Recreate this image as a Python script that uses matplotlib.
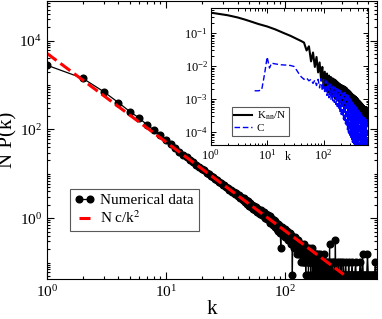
import numpy as np
import matplotlib
matplotlib.use("Agg")
import matplotlib.pyplot as plt
from matplotlib.ticker import LogLocator, LogFormatterMathtext, NullFormatter

plt.rcParams['font.family'] = ['Liberation Serif', 'DejaVu Serif']
plt.rcParams['mathtext.fontset'] = 'stix'

# --- main panel: N P(k), k = 1..60 read one by one
np_head = [2800, 1420, 710, 400, 250, 178, 124, 95, 73, 58,
           46, 38, 31.5, 27, 23.5, 20.5, 18.2, 16, 14.5, 13,
           11.9, 10.6, 9.9, 9.0, 8.4, 7.6, 7.3, 6.6, 6.3, 5.7,
           5.6, 5.0, 4.9, 4.4, 4.4, 3.9, 3.9, 3.5, 3.6, 3.1,
           3.3, 2.8, 3.0, 2.5, 2.8, 2.3, 2.5, 2.1, 2.4, 1.9,
           2.2, 1.75, 2.0, 1.6, 1.85, 1.5, 1.75, 1.35, 1.6, 1.3]

# k = 61..200, counts in units of 1/19 (the discrete levels seen in the tail)
runs = 19
counts_mid = [27, 24, 29, 22, 25, 21, 26, 19, 23, 20,
              18, 22, 17, 21, 15, 19, 16, 18, 13, 17,
              14, 16, 12, 15, 13, 11, 14, 10, 13, 12,
              9, 4, 11, 10, 12, 8, 10, 9, 11, 7,
              9, 8, 10, 7, 9, 6, 8, 7, 9, 6,
              8, 5, 7, 6, 1, 7, 5, 6, 4, 7,
              5, 6, 4, 5, 6, 3, 5, 4, 6, 3,
              4, 5, 3, 4, 2, 5, 3, 4, 3, 2,
              4, 3, 5, 2, 3, 4, 2, 3, 1, 4,
              3, 2, 4, 3, 2, 3, 1, 3, 2, 4,
              2, 3, 2, 1, 3, 2, 4, 2, 3, 1,
              2, 3, 2, 2, 1, 3, 2, 1, 2, 3,
              2, 1, 3, 2, 2, 1, 2, 3, 1, 2,
              1, 2, 2, 1, 3, 2, 1, 2, 1, 2]

# k > 200: only the non-empty degrees
k_tail = [201, 203, 204, 206, 207, 209, 211, 212, 214, 216, 218, 219, 221, 223,
          225, 226, 228, 231, 233, 234, 236, 238, 241, 243, 245, 247, 250, 252,
          254, 257, 259, 262, 264, 266, 269, 271, 274, 277, 279, 282, 285, 288,
          291, 294, 297, 300, 304, 307, 311, 314, 318, 322, 326, 330, 334, 338,
          342, 346, 351, 355, 360, 364, 369, 374, 379, 384, 390, 395, 401, 407,
          413, 419, 426, 432, 439, 446, 453, 460, 467, 475, 483, 491, 499, 507,
          516, 525, 534, 543, 552, 562, 572, 582, 590]
counts_tail = [1, 2, 1, 1, 2, 1, 3, 1, 1, 2, 1, 1, 2, 1,
               1, 2, 1, 1, 2, 1, 5, 1, 1, 2, 1, 1, 2, 1,
               1, 1, 2, 1, 6, 1, 1, 2, 1, 1, 1, 2, 1, 1,
               1, 2, 1, 1, 1, 2, 1, 1, 1, 2, 1, 1, 1, 1,
               2, 1, 1, 1, 1, 2, 1, 1, 1, 1, 2, 1, 1, 1,
               1, 1, 2, 1, 1, 3, 1, 1, 1, 1, 1, 3, 1, 1,
               1, 1, 1, 1, 1, 1, 2, 1, 1]

# fitted N c/k^2 line, end points
fit_k = [1, 310]
fit_y = [5200, 0.054]

# --- inset: K_nn/N and C
knn_k_smooth = [1, 2, 3, 4, 5, 7, 10, 14, 20, 26, 33, 40]
knn_smooth = [0.42, 0.35, 0.30, 0.26, 0.23, 0.19, 0.16, 0.13, 0.10, 0.083, 0.068, 0.058]
knn_noisy = [0.052, 0.030, 0.040, 0.014, 0.026, 0.0095, 0.019, 0.0065, 0.013, 0.0042,
             0.0095, 0.0022, 0.0068, 0.0019, 0.0060, 0.0016, 0.0052, 0.0014, 0.0047, 0.0013,
             0.0043, 0.0012, 0.0040, 0.00105, 0.0037, 0.0010, 0.0034, 0.00092, 0.0031, 0.00085,
             0.0029, 0.0008, 0.0027, 0.00075, 0.0026, 0.0007, 0.0025, 0.00066, 0.0024, 0.00062,
             0.0023, 0.00058, 0.0022, 0.00055, 0.0020, 0.00052, 0.0019, 0.0005, 0.0018, 0.00047,
             0.0017, 0.00045, 0.0016, 0.00043, 0.0015, 0.00041, 0.0014, 0.0004, 0.00135, 0.00038,
             0.0013, 0.00036, 0.00125, 0.00035, 0.0012, 0.00033, 0.00115, 0.00032, 0.0011, 0.0003,
             0.00105, 0.00029, 0.001, 0.00028, 0.00095, 0.00027, 0.0009, 0.00026, 0.00087, 0.00025,
             0.00084, 0.00024, 0.0008, 0.00023, 0.00077, 0.00022, 0.00074, 0.00021, 0.00071, 0.0002,
             0.00068, 0.0002, 0.00065, 0.00019, 0.00063, 0.00019, 0.0006, 0.00018, 0.00059, 0.00018,
             0.00058, 0.00018, 0.00058, 0.00017, 0.00057, 0.00017, 0.00057, 0.00017, 0.00056, 0.00018]

c_k_smooth = [6, 7, 8, 9, 10, 11, 12, 13, 15, 18, 22, 26, 30, 33, 36, 40]
c_smooth = [0.0018, 0.0018, 0.0019, 0.0058, 0.019, 0.0088, 0.0125, 0.012, 0.0115,
            0.011, 0.0108, 0.0105, 0.0098, 0.0078, 0.0062, 0.0048]
c_noisy = [0.0040, 0.0044, 0.0036, 0.0040, 0.0030, 0.0038, 0.0026, 0.0040, 0.0022, 0.0042,
           0.0018, 0.0040, 0.0015, 0.0036, 0.0013, 0.0032, 0.0011, 0.0029, 0.0010, 0.0027,
           0.0009, 0.0025, 0.0008, 0.0023, 0.0007, 0.0021, 0.0006, 0.0020, 0.0005, 0.0019,
           0.0004, 0.0018, 0.00035, 0.0017, 0.0003, 0.0017, 0.00025, 0.0016, 0.0002, 0.0016,
           0.00018, 0.0015, 0.00015, 0.0015, 0.00012, 0.0013, 0.0001, 0.0012, 0.00009, 0.0011,
           0.00008, 0.001, 0.00007, 0.0009, 0.00006, 0.00085, 0.00005, 0.0008, 0.00005, 0.00075,
           0.00004, 0.0007, 0.00004, 0.00065, 0.00003, 0.0006, 0.00004, 0.00058, 0.00003, 0.00055,
           0.00004, 0.0005, 0.00003, 0.00048, 0.00004, 0.00045, 0.00003, 0.00043, 0.00004, 0.0004,
           0.00003, 0.00038, 0.00004, 0.00036, 0.00003, 0.00035, 0.00004, 0.00033, 0.00003, 0.00032,
           0.00004, 0.0003, 0.00003, 0.00029, 0.00004, 0.00028, 0.00003, 0.00027, 0.00004, 0.00026,
           0.00003, 0.00025, 0.00004, 0.00025, 0.00003, 0.00024, 0.00004, 0.00024, 0.00003, 0.00023]

# assemble series
k_main = np.concatenate([np.arange(1, 61), np.arange(61, 201), k_tail])
y_main = np.concatenate([np_head, np.array(counts_mid) / runs, np.array(counts_tail) / runs])

k_noisy = np.arange(45, 591, 5)
knn_k = np.concatenate([knn_k_smooth, k_noisy])
knn = np.concatenate([knn_smooth, knn_noisy])
c_k = np.concatenate([c_k_smooth, k_noisy])
c_val = np.concatenate([c_smooth, c_noisy])

fig = plt.figure(figsize=(3.82, 3.19), dpi=100)
ax = fig.add_axes([0.1223, 0.1245, 0.8646, 0.8724])

ax.plot(k_main, y_main, '-o', color='black', lw=0.9, ms=4.8, label='Numerical data')
ax.plot(fit_k, fit_y, color='red', lw=2.2, dashes=(4, 1.6), label=r'N c/k$^2$')

ax.set_xscale('log')
ax.set_yscale('log')
ax.set_xlim(1, 590)
ax.set_ylim(0.042, 7.8e4)
ax.yaxis.set_major_locator(LogLocator(base=100))
ax.yaxis.set_minor_locator(LogLocator(base=10, subs=np.arange(1, 10), numticks=30))
ax.xaxis.set_minor_locator(LogLocator(base=10, subs=np.arange(2, 10), numticks=30))
ax.xaxis.set_major_formatter(LogFormatterMathtext())
ax.yaxis.set_major_formatter(LogFormatterMathtext())
ax.yaxis.set_minor_formatter(NullFormatter())
ax.xaxis.set_minor_formatter(NullFormatter())
ax.tick_params(which='both', direction='in', top=True, right=True, labelsize=11)
ax.tick_params(which='major', length=5, width=0.8)
ax.tick_params(which='minor', length=2.5, width=0.8)
ax.set_xlabel('k', fontsize=15, labelpad=0)
ax.set_ylabel('N P(k)', fontsize=15, labelpad=1)

leg = ax.legend(loc='lower left', bbox_to_anchor=(0.07, 0.174), borderaxespad=0,
                fontsize=11, numpoints=2, handlelength=1.3, handletextpad=0.4,
                labelspacing=0.15, borderpad=0.3, fancybox=False, framealpha=1)
leg.get_frame().set_edgecolor('0.35')
leg.get_frame().set_linewidth(0.8)

# inset
ax_in = fig.add_axes([0.5516, 0.5455, 0.4125, 0.4294])
ax_in.plot(knn_k, knn, color='black', lw=1.5, label=r'K$_{\rm nn}$/N')
ax_in.plot(c_k, c_val, color='blue', lw=1.0, dashes=(4, 2), label='C')
ax_in.set_xscale('log')
ax_in.set_yscale('log')
ax_in.set_xlim(1, 620)
ax_in.set_ylim(4.1e-5, 0.58)
ax_in.xaxis.set_minor_locator(LogLocator(base=10, subs=np.arange(2, 10), numticks=30))
ax_in.yaxis.set_minor_locator(LogLocator(base=10, subs=np.arange(2, 10), numticks=30))
ax_in.xaxis.set_major_formatter(LogFormatterMathtext())
ax_in.yaxis.set_major_formatter(LogFormatterMathtext())
ax_in.xaxis.set_minor_formatter(NullFormatter())
ax_in.yaxis.set_minor_formatter(NullFormatter())
ax_in.tick_params(which='both', direction='in', top=True, right=True, labelsize=9, pad=2)
ax_in.tick_params(which='major', length=3.5, width=0.7)
ax_in.tick_params(which='minor', length=1.8, width=0.7)
ax_in.text(0.49, -0.088, 'k', transform=ax_in.transAxes, ha='center', va='center', fontsize=8.5)

leg_in = ax_in.legend(loc='lower left', bbox_to_anchor=(0.133, 0.068), borderaxespad=0,
                      fontsize=8, handlelength=1.6, handletextpad=0.4,
                      labelspacing=0.1, borderpad=0.25, fancybox=False, framealpha=1)
leg_in.get_frame().set_edgecolor('0.35')
leg_in.get_frame().set_linewidth(0.8)

fig.savefig('out.png', dpi=100)
